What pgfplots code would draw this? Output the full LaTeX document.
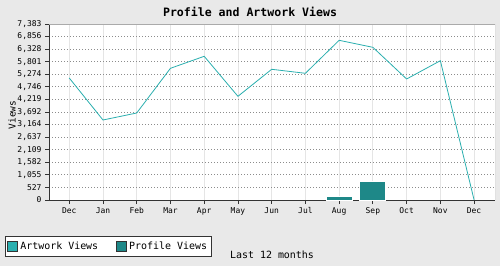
\documentclass[border=0pt]{standalone}
\usepackage{fontspec}
\setmainfont{DejaVu Sans Mono}
\usepackage{pgfplots}
\pgfplotsset{compat=1.18}
\definecolor{bg}{HTML}{E9E9E9}
\definecolor{artc}{HTML}{2AAFAF}
\definecolor{profc}{HTML}{1E8888}
\definecolor{frame}{HTML}{333333}
\definecolor{topfr}{HTML}{AAAAAA}
\begin{document}
\begin{tikzpicture}[x=1bp,y=1bp]
\fill[bg] (0,0) rectangle (500,266);
\begin{axis}[
 at={(49bp,66bp)}, anchor=south west,
 scale only axis, width=446bp, height=176bp,
 xmin=-0.6, xmax=12.62, ymin=0, ymax=7383,
 axis background/.style={fill=white},
 axis lines=left, axis line style={-,frame,line width=1bp},
 tick align=outside, major tick length=4bp,
 tick style={frame,line width=0.8bp},
 xtick={0,...,12},
 xticklabels={Dec,Jan,Feb,Mar,Apr,May,Jun,Jul,Aug,Sep,Oct,Nov,Dec},
 ytick={0,527,1055,1582,2109,2637,3164,3692,4219,4746,5274,5801,6328,6856,7383},
 yticklabels={0,527,{1,055},{1,582},{2,109},{2,637},{3,164},{3,692},{4,219},{4,746},{5,274},{5,801},{6,328},{6,856},{7,383}},
 tick label style={font=\fontsize{8}{9}\selectfont},
 xmajorgrids, ymajorgrids,
 x grid style={color=black!10,solid,line width=0.8bp},
 y grid style={color=black!45,line width=0.8bp,dash pattern=on 1bp off 2bp},
 title={Profile and Artwork Views},
 title style={at={(axis description cs:0.4507,1.068)},anchor=center,yshift=-6pt,font=\bfseries\fontsize{11.6}{13}\selectfont},
 ylabel={Views},
 ylabel style={at={(axis description cs:-0.083,0.483)},anchor=center,font=\fontsize{9.5}{11}\selectfont},
 xlabel={Last 12 months},
 xlabel style={at={(axis description cs:0.5,-0.3125)},anchor=center,font=\fontsize{10}{12}\selectfont},
 legend columns=2,
 legend style={at={(axis description cs:-0.0987,-0.2045)},anchor=north west,draw=frame,line width=1bp,fill=white,
   font=\fontsize{10}{11}\selectfont, inner xsep=2bp, inner ysep=3.5bp,
   /tikz/every even column/.append style={column sep=16bp}},
]
\addplot[ybar, bar width=26bp, fill=profc, draw=white, line width=0.8bp, forget plot] coordinates {(8,140) (9,768)};
\addplot[artc, line width=0.8bp, mark=none,
  legend image code/.code={\draw[fill=artc,draw=frame,line width=0.8bp] (0bp,-5bp) rectangle (10bp,5bp);}]
 coordinates {(0,5118) (1,3356) (2,3650) (3,5525) (4,6028) (5,4350) (6,5483) (7,5315) (8,6699) (9,6405) (10,5076) (11,5844) (12,0)};
\addlegendentry{Artwork Views}
\addlegendimage{legend image code/.code={\draw[fill=profc,draw=frame,line width=0.8bp] (0bp,-5bp) rectangle (10bp,5bp);}}
\addlegendentry{Profile Views}
\draw[topfr,line width=1bp] (rel axis cs:0,1) -- (rel axis cs:1,1) -- (rel axis cs:1,0);
\end{axis}
\pgfresetboundingbox
\path (0,0) rectangle (500,266);
\end{tikzpicture}
\end{document}
